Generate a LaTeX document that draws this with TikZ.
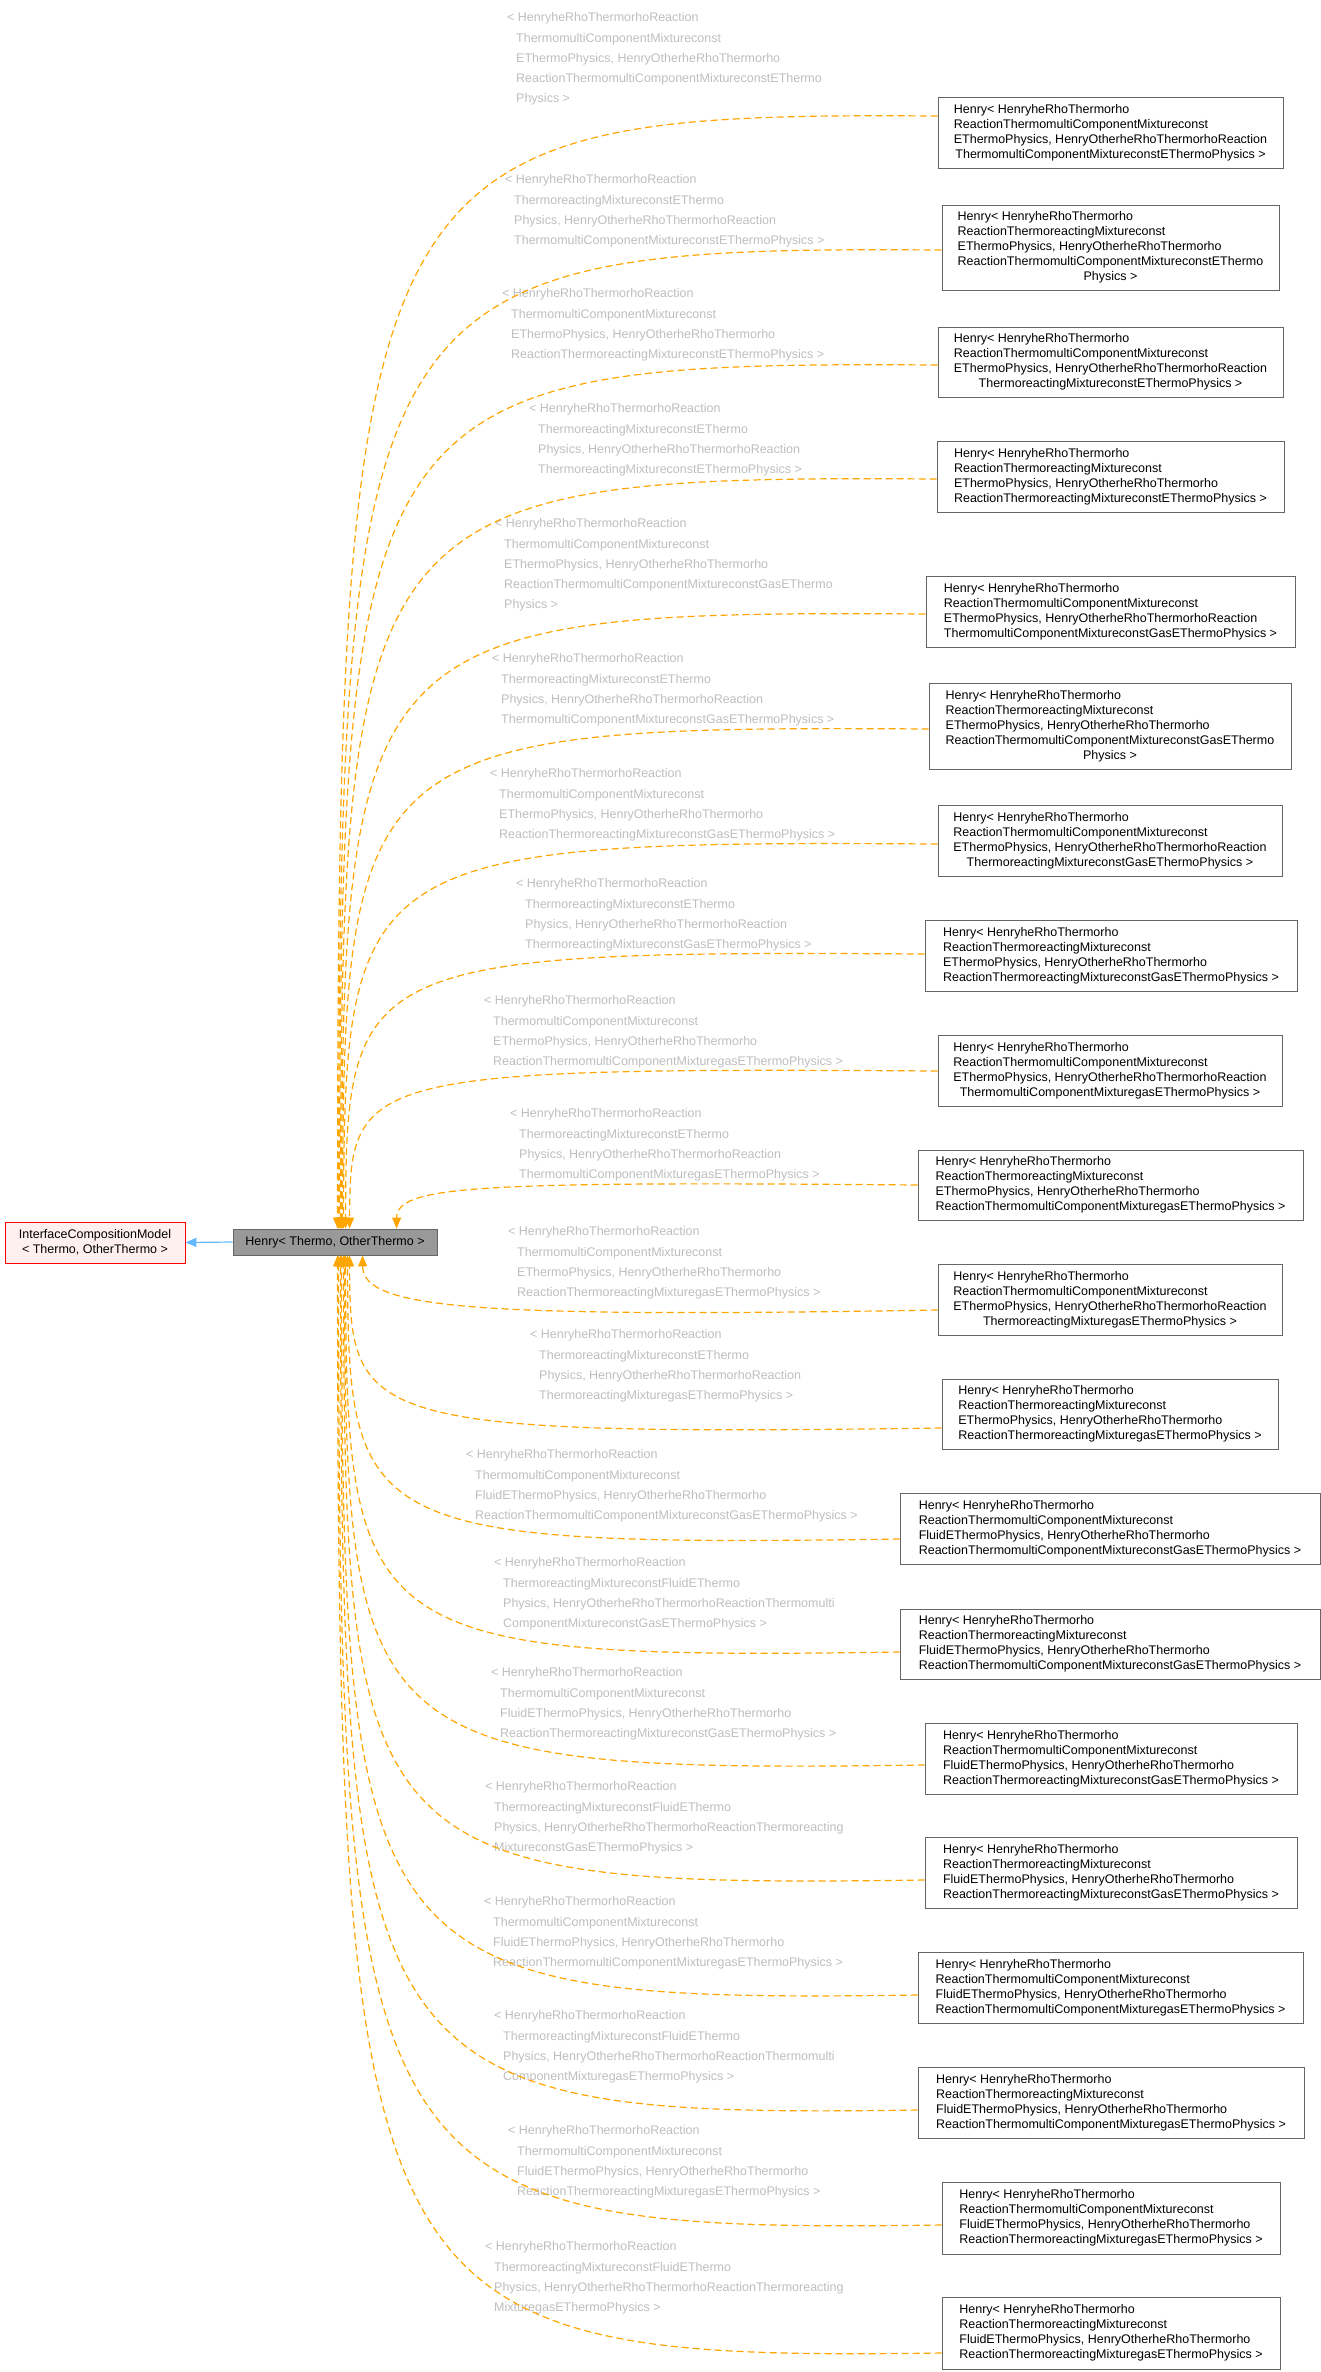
\documentclass[tikz,border=0pt]{standalone}
\usepackage{fontspec}
\setmainfont{Liberation Sans}
\usetikzlibrary{arrows.meta,calc}
\definecolor{lbl}{HTML}{BEBEBE}
\definecolor{edg}{HTML}{FFA500}
\definecolor{inh}{HTML}{63B8FF}
\definecolor{bord}{HTML}{666666}
\definecolor{hfill}{HTML}{999999}
\definecolor{ifill}{HTML}{FFF0F0}
\newcommand\ind{\hspace*{9pt}}
\newcommand\lastc[1]{\multicolumn{1}{@{}c@{}}{#1}}
\newcommand\dbox[6]{\node[cls,minimum width={(#4-#2)*1pt},minimum height={(#5-#3)*1pt}] (#1) at ({(#2+#4)/2},{(#3+#5)/2}) {\begin{tabular}{@{}l@{}}#6\end{tabular}};}
\newcommand\dlbl[4]{\node[elbl] (#1) at (#2,{#3-9.7}) {\begin{tabular}{@{}l@{}}#4\end{tabular}};}
\begin{document}
\begin{tikzpicture}[x=1pt,y=-1pt,
  cls/.style={draw=bord,line width=0.9pt,fill=white,inner sep=0pt,font=\fontsize{12.5}{15}\selectfont},
  elbl/.style={anchor=north west,inner sep=0pt,text=lbl,font=\fontsize{12.5}{20.3}\selectfont},
  edge/.style={draw=edg,line width=1.2pt,dash pattern=on 7pt off 4pt,-{Triangle[length=11pt,width=9pt,fill=edg]}},
  inhe/.style={draw=inh,line width=1.2pt,-{Triangle[length=11pt,width=9pt,fill=inh]}}]
\useasboundingbox (0,0) rectangle (1321,2372);

\node[draw=red,fill=ifill,line width=0.9pt,minimum width=180pt,minimum height=41pt,inner sep=0pt,align=center,font=\fontsize{12.5}{15}\selectfont] (IC) at (95,1242.5) {InterfaceCompositionModel\\< Thermo, OtherThermo >};
\node[draw=bord,fill=hfill,line width=0.9pt,minimum width=204pt,minimum height=26pt,inner sep=0pt,font=\fontsize{12.5}{15}\selectfont] (H) at (335,1242) {Henry< Thermo, OtherThermo >};
\draw[inhe] (H.west) -- (IC.east);

\dbox{B1}{938}{97}{1283}{168}{Henry< HenryheRhoThermorho\\ReactionThermomultiComponentMixtureconst\\EThermoPhysics, HenryOtherheRhoThermorhoReaction\\\lastc{ThermomultiComponentMixtureconstEThermoPhysics >}}
\dbox{B2}{942}{205}{1279}{290}{Henry< HenryheRhoThermorho\\ReactionThermoreactingMixtureconst\\EThermoPhysics, HenryOtherheRhoThermorho\\ReactionThermomultiComponentMixtureconstEThermo\\\lastc{Physics >}}
\dbox{B3}{938}{327}{1283}{397}{Henry< HenryheRhoThermorho\\ReactionThermomultiComponentMixtureconst\\EThermoPhysics, HenryOtherheRhoThermorhoReaction\\\lastc{ThermoreactingMixtureconstEThermoPhysics >}}
\dbox{B4}{937}{441}{1284}{512}{Henry< HenryheRhoThermorho\\ReactionThermoreactingMixtureconst\\EThermoPhysics, HenryOtherheRhoThermorho\\\lastc{ReactionThermoreactingMixtureconstEThermoPhysics >}}
\dbox{B5}{926}{576}{1295}{647}{Henry< HenryheRhoThermorho\\ReactionThermomultiComponentMixtureconst\\EThermoPhysics, HenryOtherheRhoThermorhoReaction\\\lastc{ThermomultiComponentMixtureconstGasEThermoPhysics >}}
\dbox{B6}{929}{683}{1291}{769}{Henry< HenryheRhoThermorho\\ReactionThermoreactingMixtureconst\\EThermoPhysics, HenryOtherheRhoThermorho\\ReactionThermomultiComponentMixtureconstGasEThermo\\\lastc{Physics >}}
\dbox{B7}{938}{805}{1282}{876}{Henry< HenryheRhoThermorho\\ReactionThermomultiComponentMixtureconst\\EThermoPhysics, HenryOtherheRhoThermorhoReaction\\\lastc{ThermoreactingMixtureconstGasEThermoPhysics >}}
\dbox{B8}{925}{920}{1297}{991}{Henry< HenryheRhoThermorho\\ReactionThermoreactingMixtureconst\\EThermoPhysics, HenryOtherheRhoThermorho\\\lastc{ReactionThermoreactingMixtureconstGasEThermoPhysics >}}
\dbox{B9}{938}{1035}{1282}{1106}{Henry< HenryheRhoThermorho\\ReactionThermomultiComponentMixtureconst\\EThermoPhysics, HenryOtherheRhoThermorhoReaction\\\lastc{ThermomultiComponentMixturegasEThermoPhysics >}}
\dbox{B10}{918}{1150}{1303}{1220}{Henry< HenryheRhoThermorho\\ReactionThermoreactingMixtureconst\\EThermoPhysics, HenryOtherheRhoThermorho\\\lastc{ReactionThermomultiComponentMixturegasEThermoPhysics >}}
\dbox{B11}{938}{1264}{1282}{1335}{Henry< HenryheRhoThermorho\\ReactionThermomultiComponentMixtureconst\\EThermoPhysics, HenryOtherheRhoThermorhoReaction\\\lastc{ThermoreactingMixturegasEThermoPhysics >}}
\dbox{B12}{942}{1379}{1278}{1449}{Henry< HenryheRhoThermorho\\ReactionThermoreactingMixtureconst\\EThermoPhysics, HenryOtherheRhoThermorho\\\lastc{ReactionThermoreactingMixturegasEThermoPhysics >}}
\dbox{B13}{900}{1493}{1320}{1564}{Henry< HenryheRhoThermorho\\ReactionThermomultiComponentMixtureconst\\FluidEThermoPhysics, HenryOtherheRhoThermorho\\\lastc{ReactionThermomultiComponentMixtureconstGasEThermoPhysics >}}
\dbox{B14}{900}{1609}{1320}{1679}{Henry< HenryheRhoThermorho\\ReactionThermoreactingMixtureconst\\FluidEThermoPhysics, HenryOtherheRhoThermorho\\\lastc{ReactionThermomultiComponentMixtureconstGasEThermoPhysics >}}
\dbox{B15}{925}{1723}{1297}{1794}{Henry< HenryheRhoThermorho\\ReactionThermomultiComponentMixtureconst\\FluidEThermoPhysics, HenryOtherheRhoThermorho\\\lastc{ReactionThermoreactingMixtureconstGasEThermoPhysics >}}
\dbox{B16}{925}{1837}{1297}{1908}{Henry< HenryheRhoThermorho\\ReactionThermoreactingMixtureconst\\FluidEThermoPhysics, HenryOtherheRhoThermorho\\\lastc{ReactionThermoreactingMixtureconstGasEThermoPhysics >}}
\dbox{B17}{918}{1952}{1303}{2023}{Henry< HenryheRhoThermorho\\ReactionThermomultiComponentMixtureconst\\FluidEThermoPhysics, HenryOtherheRhoThermorho\\\lastc{ReactionThermomultiComponentMixturegasEThermoPhysics >}}
\dbox{B18}{918}{2067}{1304}{2138}{Henry< HenryheRhoThermorho\\ReactionThermoreactingMixtureconst\\FluidEThermoPhysics, HenryOtherheRhoThermorho\\\lastc{ReactionThermomultiComponentMixturegasEThermoPhysics >}}
\dbox{B19}{942}{2182}{1280}{2254}{Henry< HenryheRhoThermorho\\ReactionThermomultiComponentMixtureconst\\FluidEThermoPhysics, HenryOtherheRhoThermorho\\\lastc{ReactionThermoreactingMixturegasEThermoPhysics >}}
\dbox{B20}{942}{2297}{1280}{2369}{Henry< HenryheRhoThermorho\\ReactionThermoreactingMixtureconst\\FluidEThermoPhysics, HenryOtherheRhoThermorho\\\lastc{ReactionThermoreactingMixturegasEThermoPhysics >}}

\dlbl{L1}{507}{17}{< HenryheRhoThermorhoReaction\\\ind ThermomultiComponentMixtureconst\\\ind EThermoPhysics, HenryOtherheRhoThermorho\\\ind ReactionThermomultiComponentMixtureconstEThermo\\\ind Physics >}
\dlbl{L2}{505}{179}{< HenryheRhoThermorhoReaction\\\ind ThermoreactingMixtureconstEThermo\\\ind Physics, HenryOtherheRhoThermorhoReaction\\\ind ThermomultiComponentMixtureconstEThermoPhysics >}
\dlbl{L3}{502}{293}{< HenryheRhoThermorhoReaction\\\ind ThermomultiComponentMixtureconst\\\ind EThermoPhysics, HenryOtherheRhoThermorho\\\ind ReactionThermoreactingMixtureconstEThermoPhysics >}
\dlbl{L4}{529}{408}{< HenryheRhoThermorhoReaction\\\ind ThermoreactingMixtureconstEThermo\\\ind Physics, HenryOtherheRhoThermorhoReaction\\\ind ThermoreactingMixtureconstEThermoPhysics >}
\dlbl{L5}{495}{523}{< HenryheRhoThermorhoReaction\\\ind ThermomultiComponentMixtureconst\\\ind EThermoPhysics, HenryOtherheRhoThermorho\\\ind ReactionThermomultiComponentMixtureconstGasEThermo\\\ind Physics >}
\dlbl{L6}{492}{658}{< HenryheRhoThermorhoReaction\\\ind ThermoreactingMixtureconstEThermo\\\ind Physics, HenryOtherheRhoThermorhoReaction\\\ind ThermomultiComponentMixtureconstGasEThermoPhysics >}
\dlbl{L7}{490}{773}{< HenryheRhoThermorhoReaction\\\ind ThermomultiComponentMixtureconst\\\ind EThermoPhysics, HenryOtherheRhoThermorho\\\ind ReactionThermoreactingMixtureconstGasEThermoPhysics >}
\dlbl{L8}{516}{883}{< HenryheRhoThermorhoReaction\\\ind ThermoreactingMixtureconstEThermo\\\ind Physics, HenryOtherheRhoThermorhoReaction\\\ind ThermoreactingMixtureconstGasEThermoPhysics >}
\dlbl{L9}{484}{1000}{< HenryheRhoThermorhoReaction\\\ind ThermomultiComponentMixtureconst\\\ind EThermoPhysics, HenryOtherheRhoThermorho\\\ind ReactionThermomultiComponentMixturegasEThermoPhysics >}
\dlbl{L10}{510}{1113}{< HenryheRhoThermorhoReaction\\\ind ThermoreactingMixtureconstEThermo\\\ind Physics, HenryOtherheRhoThermorhoReaction\\\ind ThermomultiComponentMixturegasEThermoPhysics >}
\dlbl{L11}{508}{1231}{< HenryheRhoThermorhoReaction\\\ind ThermomultiComponentMixtureconst\\\ind EThermoPhysics, HenryOtherheRhoThermorho\\\ind ReactionThermoreactingMixturegasEThermoPhysics >}
\dlbl{L12}{530}{1334}{< HenryheRhoThermorhoReaction\\\ind ThermoreactingMixtureconstEThermo\\\ind Physics, HenryOtherheRhoThermorhoReaction\\\ind ThermoreactingMixturegasEThermoPhysics >}
\dlbl{L13}{466}{1454}{< HenryheRhoThermorhoReaction\\\ind ThermomultiComponentMixtureconst\\\ind FluidEThermoPhysics, HenryOtherheRhoThermorho\\\ind ReactionThermomultiComponentMixtureconstGasEThermoPhysics >}
\dlbl{L14}{494}{1562}{< HenryheRhoThermorhoReaction\\\ind ThermoreactingMixtureconstFluidEThermo\\\ind Physics, HenryOtherheRhoThermorhoReactionThermomulti\\\ind ComponentMixtureconstGasEThermoPhysics >}
\dlbl{L15}{491}{1672}{< HenryheRhoThermorhoReaction\\\ind ThermomultiComponentMixtureconst\\\ind FluidEThermoPhysics, HenryOtherheRhoThermorho\\\ind ReactionThermoreactingMixtureconstGasEThermoPhysics >}
\dlbl{L16}{485}{1786}{< HenryheRhoThermorhoReaction\\\ind ThermoreactingMixtureconstFluidEThermo\\\ind Physics, HenryOtherheRhoThermorhoReactionThermoreacting\\\ind MixtureconstGasEThermoPhysics >}
\dlbl{L17}{484}{1901}{< HenryheRhoThermorhoReaction\\\ind ThermomultiComponentMixtureconst\\\ind FluidEThermoPhysics, HenryOtherheRhoThermorho\\\ind ReactionThermomultiComponentMixturegasEThermoPhysics >}
\dlbl{L18}{494}{2015}{< HenryheRhoThermorhoReaction\\\ind ThermoreactingMixtureconstFluidEThermo\\\ind Physics, HenryOtherheRhoThermorhoReactionThermomulti\\\ind ComponentMixturegasEThermoPhysics >}
\dlbl{L19}{508}{2130}{< HenryheRhoThermorhoReaction\\\ind ThermomultiComponentMixtureconst\\\ind FluidEThermoPhysics, HenryOtherheRhoThermorho\\\ind ReactionThermoreactingMixturegasEThermoPhysics >}
\dlbl{L20}{485}{2246}{< HenryheRhoThermorhoReaction\\\ind ThermoreactingMixtureconstFluidEThermo\\\ind Physics, HenryOtherheRhoThermorhoReactionThermoreacting\\\ind MixturegasEThermoPhysics >}

% edges: box, dy, attach y, end x, end anchor, end y
\foreach \b/\dy/\ys/\ex/\an/\ey in {
 B1/-16.5/116/338/north/1229, B2/2.5/250/339/north/1229, B3/3/365/340/north/1229,
 B4/2.5/479/341/north/1229, B5/2.5/614/342/north/1229, B6/3/729/343/north/1229,
 B7/3.5/844/344/north/1229, B8/-1.5/954/346/north/1229, B9/0.5/1071/350/north/1229,
 B10/0/1185/397/north/1229,
 B11/10.5/1310/363/south/1255, B12/14/1428/350/south/1255, B13/10.5/1539/348/south/1255,
 B14/8/1652/346/south/1255, B15/6.5/1765/345/south/1255, B16/7.5/1880/344/south/1255,
 B17/7.5/1995/342/south/1255, B18/7.5/2110/341/south/1255, B19/7/2225/339/south/1255,
 B20/20/2353/338/south/1255}{
  \pgfmathsetmacro\cy{\ys+0.03*(\ey-\ys)}
  \pgfmathsetmacro\cxa{(\ys>1150 && \ys<1330) ? 470 : 360}
  \pgfmathsetmacro\cya{\ys>1256 ? \ys+8 : \ys-4}
  \draw[edge] ($(\b.west)+(0,\dy)$) .. controls (\cxa,\cya) and (\ex,\cy) .. ($(H.\an\space west)+(\ex-233,0)$);
}
\end{tikzpicture}
\end{document}
